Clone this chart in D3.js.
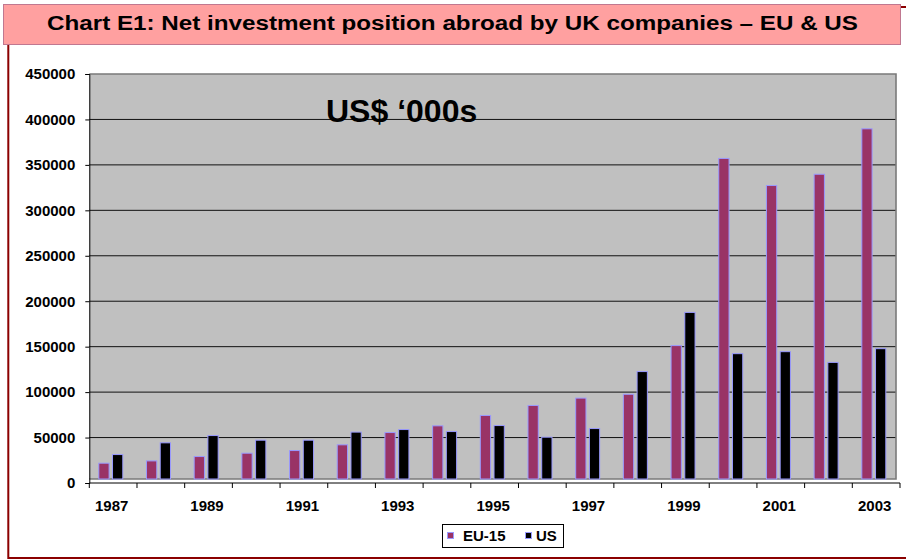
<!DOCTYPE html>
<meta charset="utf-8">
<style>
  body { margin: 0; background: #fff; }
  text { font-family: Arial, "Liberation Sans", sans-serif; font-weight: bold; }
</style>
<svg width="906" height="559"></svg>
<script src="https://cdn.jsdelivr.net/npm/d3@7/dist/d3.min.js"></script>
<script>

var years = [1987, 1988, 1989, 1990, 1991, 1992, 1993, 1994, 1995, 1996, 1997, 1998, 1999, 2000, 2001, 2002, 2003];
var euValues = [21800, 24300, 29100, 32800, 35700, 42000, 55500, 62900, 74300, 85300, 93400, 97600, 151200, 357100, 327300, 339700, 389700];
var usValues = [31300, 44200, 52200, 47100, 47100, 56000, 58800, 56600, 63200, 50400, 59900, 122600, 187700, 142300, 144500, 132700, 147800];
var seriesNames = ["EU-15", "US"];
var seriesColors = ["#993366", "#000000"];
var yTicks = [0, 50000, 100000, 150000, 200000, 250000, 300000, 350000, 400000, 450000];

var svg = d3.select("svg"),
    width = +svg.attr("width"),
    height = +svg.attr("height");

// plot area (the grey wall sits a few px up/left of the axes, like excel does)
var plotLeft = 89.3, plotRight = 900, plotTop = 74, plotBottom = 483, depth = 4;

var x = d3.scaleBand().domain(years).range([plotLeft, plotRight]).padding(0);
var sx = d3.scaleBand().domain(seriesNames).range([0, 24]).paddingInner(0.25).paddingOuter(0);
var y = d3.scaleLinear().domain([0, 450000]).range([plotBottom, plotTop]);

// outer dark red frame
svg.append("path")
    .attr("d", "M8.3," + height + "V7H" + width)
    .attr("fill", "none").attr("stroke", "#8b0000").attr("stroke-width", 2);
svg.append("line")
    .attr("x1", 8.3).attr("x2", width).attr("y1", 558).attr("y2", 558)
    .attr("stroke", "#8b0000").attr("stroke-width", 2);

// title box
svg.append("rect")
    .attr("x", 3.5).attr("y", 4.5).attr("width", 897).attr("height", 40)
    .attr("fill", "#ffa0a0").attr("stroke", "#c07890");
svg.append("text")
    .attr("x", 47).attr("y", 30)
    .attr("font-size", 20)
    .attr("textLength", 811).attr("lengthAdjust", "spacingAndGlyphs")
    .text("Chart E1: Net investment position abroad by UK companies \u2013 EU & US");

// grey wall
svg.append("rect")
    .attr("x", plotLeft).attr("y", plotTop)
    .attr("width", plotRight - depth - plotLeft).attr("height", plotBottom - depth - plotTop)
    .attr("fill", "#c0c0c0");

// gridlines
svg.append("g").selectAll("line")
    .data(yTicks.filter(function(d) { return d > 0 && d < 450000; }))
    .join("line")
    .attr("x1", plotLeft).attr("x2", plotRight - depth)
    .attr("y1", function(d) { return y(d); }).attr("y2", function(d) { return y(d); })
    .attr("stroke", "#111").attr("stroke-width", 1);

// wall border
svg.append("path")
    .attr("d", "M" + plotLeft + "," + plotTop + "H" + (plotRight - depth) + "V" + (plotBottom - depth) + "H" + plotLeft)
    .attr("fill", "none").attr("stroke", "#7a7a7a").attr("stroke-width", 1.6);

// bars
var groups = svg.append("g").selectAll("g")
    .data(years)
    .join("g")
    .attr("transform", function(d) { return "translate(" + (x(d) + 9.5) + ",0)"; });

groups.selectAll("rect")
    .data(function(d, i) { return [euValues[i], usValues[i]].map(function(v, k) { return { name: seriesNames[k], value: v }; }); })
    .join("rect")
    .attr("x", function(d) { return sx(d.name); })
    .attr("width", sx.bandwidth())
    .attr("y", function(d) { return y(d.value); })
    .attr("height", function(d) { return plotBottom - depth - y(d.value); })
    .attr("fill", function(d) { return seriesColors[seriesNames.indexOf(d.name)]; })
    .attr("stroke", "#9999ff").attr("stroke-width", 1);

// y axis
var yAxis = svg.append("g")
    .attr("transform", "translate(" + plotLeft + ",0)")
    .call(d3.axisLeft(y).tickValues(yTicks).tickFormat(d3.format("d")).tickSize(4).tickPadding(10));
yAxis.attr("font-family", null).attr("font-size", null);
yAxis.selectAll("text").attr("font-size", 15).attr("fill", "#000");
yAxis.select(".domain").attr("stroke", "#000");

// x axis: ticks between categories
var xAxis = svg.append("g");
xAxis.append("line")
    .attr("x1", plotLeft).attr("x2", plotRight).attr("y1", plotBottom).attr("y2", plotBottom)
    .attr("stroke", "#000");
xAxis.selectAll("line.tick")
    .data(years.map(function(d) { return x(d); }).concat([plotRight]))
    .join("line").attr("class", "tick")
    .attr("x1", function(d) { return d; }).attr("x2", function(d) { return d; })
    .attr("y1", plotBottom).attr("y2", plotBottom + 5)
    .attr("stroke", "#000");
xAxis.selectAll("text")
    .data(years.filter(function(d, i) { return i % 2 === 0; }))
    .join("text")
    .attr("x", function(d) { return x(d) + x.bandwidth() / 2 - 1.5; })
    .attr("y", 511)
    .attr("text-anchor", "middle")
    .attr("font-size", 15)
    .text(function(d) { return d; });

// units label
svg.append("text")
    .attr("x", 326).attr("y", 122)
    .attr("font-size", 32)
    .text("US$ \u2018000s");

// legend
var legend = svg.append("g").attr("transform", "translate(442.5,524.5)");
legend.append("rect")
    .attr("width", 121).attr("height", 23)
    .attr("fill", "#fff").attr("stroke", "#000");
var legendX = [5, 83];
var legendTextX = [20.5, 93.5];
seriesNames.forEach(function(name, i) {
  legend.append("rect")
      .attr("x", legendX[i]).attr("y", 8)
      .attr("width", 6).attr("height", 6)
      .attr("fill", seriesColors[i]).attr("stroke", "#9999ff");
  legend.append("text")
      .attr("x", legendTextX[i]).attr("y", 16.5)
      .attr("font-size", 15)
      .text(name);
});

</script>
